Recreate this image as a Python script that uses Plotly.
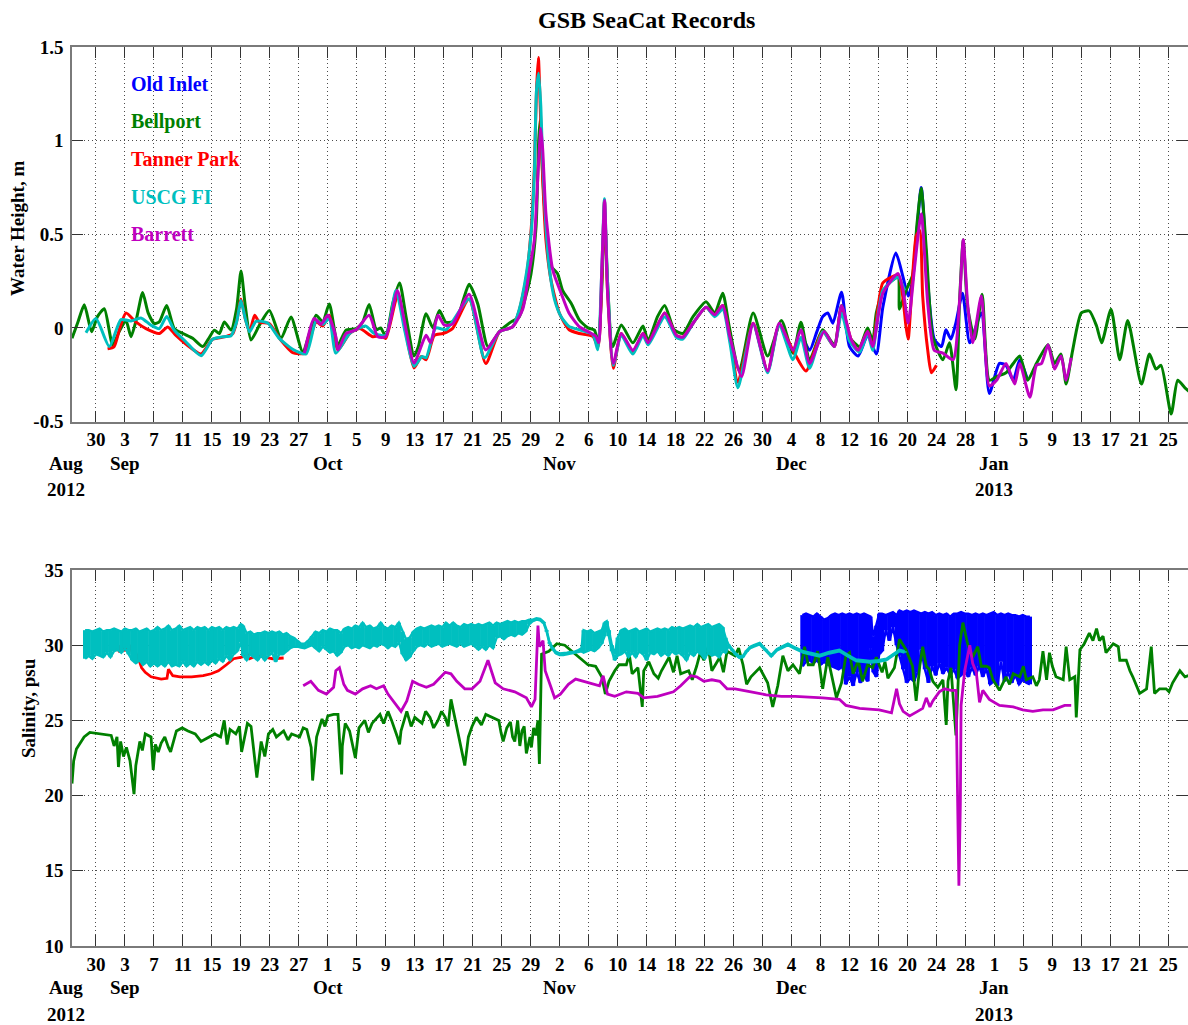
import numpy as np
import pandas as pd
import plotly.graph_objects as go

# Time is kept as decimal days since 27 Aug 2012 00:00
BASE = pd.Timestamp("2012-08-27")
X0, X1 = -0.31, 153.72


def when(days):
    return BASE + pd.to_timedelta(np.asarray(days, dtype=float), unit="D")


# ---------------- Water height (m), sub-tidal ----------------
old_inlet_wh_t = [100.6, 101.5, 102.5, 103.3, 104.0, 104.7, 105.9, 107.0, 108.2, 109.5, 110.7,
                  111.6, 113.4, 114.4, 115.1, 115.7, 116.9, 117.8, 118.7, 119.7, 120.3, 121.0,
                  121.7, 122.6, 123.6, 125.2, 126.3, 127.7, 128.6, 129.6, 130.5, 131.6]
old_inlet_wh = [-0.05, -0.12, -0.02, 0.06, 0.08, 0.025, 0.19, -0.10, -0.15, -0.04, -0.14,
                0.11, 0.40, 0.27, 0.17, 0.25, 0.75, 0.24, -0.06, -0.10, -0.01, -0.06,
                0.03, 0.185, -0.08, 0.08, -0.35, -0.19, -0.20, -0.28, -0.17, -0.28]

bellport_wh_t = [-0.31, 0.5, 1.39, 2.4, 3.2, 4.15, 5.3, 6.2, 7.14, 7.83, 8.6, 9.44, 10.2, 11.05,
                 11.74, 12.76, 13.81, 15.0, 16.35, 17.73, 18.5, 19.34, 20.03, 20.72, 21.64, 22.4,
                 23.02, 23.6, 24.4, 25.55, 26.93, 28.54, 29.92, 31.53, 33.37, 34.29, 35.2, 36.4,
                 37.5, 38.9, 39.8, 40.7, 41.7, 42.3, 43.0, 43.95, 44.9, 45.8, 46.9, 47.5, 48.56,
                 49.5, 50.4, 51.3, 52.7, 53.7, 54.5, 55.7, 57.1, 58.7, 60.3, 61.4, 62.4, 63.05,
                 63.74, 64.1, 64.3, 64.66, 65.1, 65.8, 66.7, 67.4, 68.6, 69.7, 70.9, 71.8, 72.3,
                 72.8, 73.2, 73.6, 74.3, 75.5, 77.1, 78.5, 79.2, 80.5, 81.5, 82.8, 84.0, 85.4,
                 87.2, 88.4, 89.5, 90.4, 91.8, 93.7, 95.7, 97.6, 99.2, 100.3, 101.5, 103.3, 104.9,
                 105.9, 107.0, 108.4, 109.5, 110.2, 110.7, 111.5, 112.5, 113.7, 113.9, 114.8,
                 115.7, 116.3, 116.9, 117.6, 118.5, 119.9, 120.8, 121.7, 122.2, 122.7, 123.3,
                 124.3, 125.3, 126.3, 127.3, 128.6, 129.6, 130.5, 131.6, 132.8, 134.4, 135.3,
                 136.2, 136.9, 137.8, 139.0, 140.1, 141.1, 141.8, 143.1, 144.3, 145.4, 147.3,
                 148.4, 149.3, 150.0, 151.4, 152.3, 153.3, 153.9]
bellport_wh = [-0.056, 0.03, 0.123, -0.021, 0.06, 0.102, -0.091, -0.02, 0.04, -0.047, 0.05, 0.189,
               0.08, 0.023, 0.032, 0.119, -0.004, -0.03, -0.056, -0.10, -0.06, -0.012, -0.03,
               0.032, -0.012, 0.10, 0.304, 0.12, -0.065, 0.014, 0.093, -0.056, 0.058, -0.126,
               0.067, 0.032, 0.128, -0.09, -0.012, -0.004, 0.03, 0.125, -0.01, 0.0, -0.047, 0.13,
               0.24, 0.058, -0.15, -0.10, 0.075, 0.0, 0.093, 0.03, 0.04, 0.15, 0.233, 0.128,
               -0.10, -0.02, 0.032, 0.058, 0.18, 0.29, 0.54, 1.0, 1.11, 0.81, 0.54, 0.33, 0.29,
               0.20, 0.13, 0.043, 0.0, -0.012, -0.09, 0.2, 0.62, 0.25, -0.10, 0.016, -0.08, 0.01,
               -0.07, 0.06, 0.12, -0.01, -0.03, 0.06, 0.14, 0.08, 0.185, 0.007, -0.23, 0.08,
               -0.15, 0.04, -0.135, 0.03, -0.17, -0.01, -0.09, 0.12, -0.05, -0.10, 0.0, -0.07,
               0.08, 0.18, 0.24, 0.27, 0.10, 0.20, 0.28, 0.55, 0.745, 0.42, -0.05, -0.17, -0.08,
               -0.33, 0.15, 0.47, 0.11, -0.06, 0.18, -0.28, -0.26, -0.24, -0.19, -0.15, -0.28,
               -0.19, -0.09, -0.19, -0.14, -0.30, -0.12, 0.08, 0.09, 0.01, -0.08, 0.10, -0.17,
               0.04, -0.30, -0.14, -0.22, -0.20, -0.46, -0.28, -0.32, -0.34]

tanner_wh_t = [4.6, 5.5, 6.3, 7.14, 8.5, 9.9, 11.74, 12.9, 14.0, 15.4, 17.5, 19.1, 20.9, 21.9, 22.5,
               23.0, 23.6, 24.2, 24.9, 25.55, 26.9, 28.5, 30.15, 31.76, 33.4, 34.3, 35.2, 36.4,
               38.0, 39.4, 41.2, 42.3, 43.0, 44.6, 45.8, 46.9, 47.9, 48.56, 49.7, 50.9, 52.2,
               54.5, 56.8, 58.7, 60.5, 61.4, 62.4, 63.05, 63.5, 63.8, 64.06, 64.3, 64.66, 65.1,
               65.8, 66.96, 68.3, 69.7, 71.6, 72.3, 72.8, 73.18, 73.6, 74.4, 75.5, 77.1, 78.5,
               79.2, 81.5, 83.1, 84.0, 85.5, 87.2, 88.4, 89.5, 90.5, 91.6, 93.7, 95.7, 97.3,
               99.2, 101.0, 103.3, 104.9, 105.9, 107.2, 108.2, 109.5, 110.2, 111.6, 113.7, 114.8,
               115.1, 116.2, 116.7, 117.1, 117.8, 118.3, 119.0]
tanner_wh = [-0.112, -0.10, 0.0, 0.079, 0.032, -0.004, -0.03, 0.005, -0.039, -0.086, -0.139, -0.061,
             -0.047, -0.03, 0.05, 0.154, 0.05, -0.02, 0.067, 0.03, 0.023, -0.065, -0.132, -0.135,
             0.032, 0.01, 0.067, -0.118, -0.03, -0.004, -0.047, -0.04, -0.056, 0.17, -0.03,
             -0.214, -0.153, -0.17, -0.04, -0.03, -0.004, 0.154, -0.19, -0.02, 0.005, 0.09, 0.27,
             0.52, 0.85, 1.27, 1.444, 1.2, 0.79, 0.47, 0.256, 0.078, -0.01, -0.03, -0.046, -0.10,
             0.25, 0.68, 0.2, -0.215, -0.03, -0.13, -0.03, -0.08, 0.08, -0.04, -0.05, 0.03, 0.11,
             0.07, 0.12, -0.05, -0.29, 0.025, -0.23, 0.016, -0.12, -0.23, -0.02, -0.10, 0.11,
             -0.06, -0.12, -0.02, -0.10, 0.24, 0.28, 0.007, -0.06, 0.49, 0.52, 0.17, -0.12,
             -0.24, -0.20]

uscg_wh_t = [1.62, 3.0, 4.84, 6.45, 7.83, 9.2, 10.6, 11.74, 12.76, 13.8, 15.4, 17.5, 19.1, 20.7,
             21.6, 22.4, 23.0, 23.6, 24.2, 25.1, 26.7, 28.3, 30.15, 32.0, 33.4, 34.3, 35.2, 36.1,
             38.0, 40.2, 41.4, 43.0, 44.4, 45.6, 46.9, 48.0, 48.56, 49.9, 51.3, 54.5, 56.6, 58.7,
             60.5, 61.4, 62.4, 63.05, 63.5, 63.8, 64.1, 64.4, 64.66, 65.1, 65.6, 66.3, 67.2, 68.3,
             69.7, 71.6, 72.25, 72.8, 73.18, 73.6, 74.4, 75.5, 77.1, 78.5, 79.2, 81.5, 83.1, 84.0,
             85.5, 87.2, 88.4, 89.5, 90.5, 91.6, 93.7, 95.7, 97.3, 99.2, 100.3, 101.5, 103.3,
             104.9, 105.9, 107.0, 108.4, 109.5, 110.2, 111.6, 113.7, 114.6]
uscg_wh = [-0.026, 0.05, -0.10, 0.044, 0.037, 0.053, 0.014, -0.004, 0.061, -0.012, -0.074, -0.149,
           -0.061, -0.047, -0.044, 0.03, 0.146, 0.05, -0.021, 0.035, 0.026, -0.056, -0.114, -0.139,
           0.04, 0.019, 0.05, -0.135, -0.03, 0.01, -0.03, -0.04, 0.2, -0.012, -0.205, -0.153, -0.16,
           0.0, -0.01, 0.154, -0.16, -0.02, 0.005, 0.096, 0.29, 0.5, 0.82, 1.27, 1.36, 1.18, 0.88,
           0.54, 0.31, 0.15, 0.06, 0.007, -0.01, -0.037, -0.117, 0.3, 0.69, 0.25, -0.2, -0.04,
           -0.14, -0.04, -0.09, 0.06, -0.05, -0.06, 0.03, 0.11, 0.06, 0.10, -0.08, -0.32, 0.02,
           -0.24, 0.016, -0.17, -0.05, -0.215, -0.02, -0.10, 0.08, -0.07, -0.13, -0.03, -0.12,
           0.20, 0.27, 0.20]

barrett_wh_t = [31.76, 33.1, 34.06, 35.0, 36.1, 36.4, 37.5, 38.9, 40.7, 41.9, 43.0, 44.6, 45.8, 46.9,
                48.56, 49.2, 50.2, 51.1, 52.2, 54.5, 56.8, 58.7, 60.5, 61.9, 62.8, 63.5, 64.0, 64.4,
                64.66, 65.1, 66.04, 67.2, 68.3, 69.7, 70.9, 72.0, 72.4, 72.8, 73.2, 73.6, 74.4, 75.5,
                77.1, 78.5, 79.2, 81.5, 83.1, 84.0, 85.5, 87.2, 88.4, 89.5, 90.5, 92.1, 93.7, 95.7,
                97.3, 99.2, 100.3, 101.5, 103.5, 104.9, 105.9, 107.2, 108.2, 109.5, 110.2, 111.6,
                113.7, 114.4, 115.1, 116.0, 116.9, 117.8, 118.7, 119.9, 121.3, 122.2, 122.7, 123.3,
                124.0, 125.2, 126.3, 127.3, 128.6, 129.8, 130.5, 131.9, 132.8, 133.5, 134.4, 135.3,
                136.2, 136.9, 137.6]
barrett_wh = [-0.135, 0.05, 0.02, 0.067, -0.047, -0.118, -0.03, -0.01, 0.067, -0.047, -0.047, 0.2,
              -0.012, -0.188, -0.04, -0.08, 0.067, 0.014, 0.02, 0.18, -0.118, -0.02, 0.005, 0.10,
              0.30, 0.47, 0.82, 1.065, 0.95, 0.61, 0.31, 0.185, 0.078, 0.007, -0.02, -0.046, -0.08,
              0.30, 0.68, 0.20, -0.19, -0.03, -0.12, -0.03, -0.08, 0.08, -0.04, -0.05, 0.03, 0.11,
              0.07, 0.12, -0.05, -0.26, 0.025, -0.23, 0.025, -0.12, -0.01, -0.19, -0.02, -0.10,
              0.12, -0.06, -0.12, -0.02, -0.10, 0.185, 0.29, 0.20, 0.025, 0.33, 0.61, 0.13, -0.12,
              -0.135, -0.17, 0.15, 0.47, 0.13, -0.08, 0.17, -0.31, -0.28, -0.19, -0.30, -0.19,
              -0.37, -0.20, -0.19, -0.09, -0.22, -0.15, -0.28, -0.16]

# ---------------- Salinity (psu) ----------------
# Old Inlet and USCG FI swing with every tide; kept as per-time upper and lower bounds
old_inlet_sal_t = [100.5, 101.0, 101.5, 102.0, 102.5, 103.0, 103.5, 104.0, 104.5, 105.0, 105.5, 106.0,
                   106.5, 107.0, 107.5, 108.0, 108.5, 109.0, 109.5, 109.9, 110.3, 110.7, 111.1, 111.5,
                   112.0, 112.5, 113.0, 113.5, 113.9, 114.4, 114.9, 115.4, 115.9, 116.4, 116.9, 117.4,
                   117.9, 118.4, 118.9, 119.4, 119.9, 120.4, 120.9, 121.4, 121.9, 122.4, 122.9, 123.4,
                   123.9, 124.4, 124.9, 125.4, 125.9, 126.4, 126.9, 127.4, 127.9, 128.4, 128.9, 129.4,
                   129.9, 130.4, 130.9, 131.4, 131.9]
old_inlet_sal_hi = [32.0, 32.1, 32.0, 31.9, 32.1, 31.9, 31.7, 31.8, 32.0, 32.1, 32.0, 32.1, 32.0, 32.1,
                    32.0, 32.1, 32.0, 32.1, 32.0, 31.9, 30.6, 31.3, 32.1, 32.1, 32.0, 32.1, 32.2, 32.0,
                    32.3, 32.2, 32.3, 32.2, 32.3, 32.2, 32.1, 32.2, 32.1, 32.2, 32.0, 32.1, 32.0, 32.1,
                    31.9, 32.1, 32.1, 32.2, 32.1, 32.1, 32.0, 32.1, 32.0, 32.1, 32.0, 32.1, 32.2, 32.0,
                    32.1, 32.0, 32.1, 32.0, 32.0, 31.9, 32.0, 31.9, 31.9]
old_inlet_sal_lo = [28.6, 28.9, 29.0, 28.8, 29.0, 28.7, 28.9, 28.7, 28.6, 28.5, 28.4, 28.6, 27.4, 27.9,
                    27.3, 28.2, 27.5, 28.0, 27.6, 29.8, 28.2, 27.9, 29.4, 29.6, 31.0, 30.3, 31.2, 30.0,
                    29.3, 28.4, 27.5, 27.8, 27.6, 28.2, 29.7, 28.4, 27.5, 28.6, 28.0, 28.8, 28.1, 28.5,
                    28.0, 28.4, 27.8, 28.0, 28.3, 27.9, 28.5, 28.0, 28.6, 27.9, 28.4, 27.4, 27.6, 27.3,
                    28.9, 27.6, 28.2, 27.5, 28.0, 27.4, 27.7, 27.5, 27.4]

bellport_sal_t = [-0.31, -0.08, 0.3, 0.8, 1.36, 2.15, 3.5, 5.1, 5.9, 6.1, 6.4, 7.2, 7.7, 8.25, 8.5, 9.05,
                  9.8, 10.6, 10.9, 11.2, 12.0, 13.0, 13.3, 14.1, 14.9, 15.7, 16.7, 18.3, 19.4, 20.2,
                  20.7, 21.5, 22.3, 23.1, 23.9, 24.4, 25.2, 25.8, 26.3, 26.8, 27.9, 28.9, 30.0, 31.6,
                  32.1, 32.7, 32.9, 33.45, 34.2, 35.0, 35.8, 36.4, 36.9, 37.4, 38.0, 38.5, 38.8, 39.3,
                  40.1, 41.1, 42.2, 42.7, 43.8, 44.6, 45.1, 45.9, 47.0, 48.0, 49.1, 50.2, 51.2, 52.0,
                  52.5, 53.3, 53.9, 54.4, 55.5, 56.8, 57.6, 58.6, 59.2, 59.7, 60.8, 61.8, 62.4, 62.9,
                  63.4, 64.0, 64.2, 64.5, 65.5, 66.6, 67.7, 68.7, 69.8, 70.9, 71.96, 72.8, 73.3, 73.8,
                  74.6, 75.2, 76.2, 77.0, 77.8, 78.4, 78.6, 80.0, 81.05, 82.1, 82.7, 83.7, 84.8, 85.9,
                  86.9, 87.5, 88.0, 89.1, 90.1, 91.2, 92.3, 92.8, 93.4, 94.6, 95.7, 96.4, 97.1, 97.8,
                  99.2, 100.1, 100.8, 101.3, 102.0, 103.3, 104.0, 104.5, 105.2, 105.9, 106.5, 107.5,
                  108.2, 108.8, 109.5, 110.2, 110.7, 111.5, 112.3, 113.2, 113.9, 114.8, 115.7, 116.2,
                  116.7, 117.1, 117.6, 118.5, 119.2, 119.9, 120.35, 120.6, 121.0, 121.7, 122.2, 122.65,
                  123.3, 124.0, 124.7, 125.2, 125.9, 126.8, 127.7, 128.6, 129.6, 130.5, 131.4, 132.3,
                  133.2, 133.7, 134.2, 134.6, 135.5, 136.5, 136.9, 137.4, 138.1, 138.3, 138.8, 139.4,
                  140.1, 140.6, 141.1, 141.5, 142.4, 143.4, 144.1, 144.3, 145.2, 146.1, 147.05, 148.0,
                  148.65, 149.1, 149.8, 150.7, 151.6, 152.6, 153.3, 153.9]
bellport_sal = [20.8, 22.3, 23.1, 23.5, 23.9, 24.2, 24.1, 24.0, 23.9, 21.9, 23.6, 23.2, 22.3, 20.1, 22.0,
                23.6, 24.1, 23.9, 21.7, 23.4, 23.5, 23.2, 22.9, 24.3, 24.5, 24.3, 24.1, 23.8, 24.1,
                23.9, 25.0, 24.4, 24.1, 22.9, 24.8, 24.6, 21.2, 23.6, 22.6, 24.1, 23.9, 24.3, 24.1,
                24.5, 24.4, 23.2, 21.0, 23.9, 25.1, 25.3, 25.4, 25.4, 21.4, 24.8, 24.3, 23.2, 22.5,
                24.5, 25.0, 24.8, 25.4, 24.8, 25.0, 23.9, 24.3, 25.6, 25.2, 24.8, 25.2, 25.0, 25.2,
                26.4, 25.2, 23.5, 22.0, 23.9, 25.2, 25.4, 25.2, 25.0, 23.6, 24.5, 23.6, 24.3, 22.8,
                23.9, 24.5, 25.0, 22.1, 29.4, 29.6, 30.1, 30.0, 29.6, 29.2, 28.7, 28.6, 27.9, 26.75,
                27.6, 28.3, 28.7, 28.7, 28.1, 28.5, 25.9, 28.3, 28.1, 28.3, 29.2, 28.2, 28.1, 28.3,
                28.6, 29.0, 29.9, 28.3, 29.2, 29.6, 29.3, 28.7, 27.4, 27.9, 28.5, 27.5, 25.9, 27.3,
                29.3, 28.7, 28.1, 29.9, 28.7, 28.7, 27.1, 29.2, 28.1, 26.5, 27.5, 29.3, 28.1, 29.0,
                27.6, 28.7, 28.5, 29.2, 28.2, 27.8, 28.5, 30.4, 29.7, 28.6, 26.3, 28.6, 29.9, 28.6,
                27.6, 27.2, 27.7, 24.7, 27.6, 28.5, 24.0, 30.0, 31.5, 30.1, 29.2, 29.9, 28.6, 28.6,
                27.7, 27.0, 27.9, 28.1, 27.9, 27.7, 27.9, 27.7, 29.6, 27.7, 29.5, 27.9, 27.7, 29.9,
                27.7, 27.9, 25.2, 29.7, 30.1, 30.8, 30.3, 31.1, 30.3, 29.5, 30.1, 29.9, 29.0, 29.0,
                27.9, 26.8, 27.1, 29.9, 26.8, 27.1, 27.1, 27.5, 28.3, 27.9, 28.0]
# short-lived excursions of the Bellport record between the samples above
bellport_sal_spike_t = [5.5, 6.8, 9.4, 11.6, 12.5, 17.5, 21.1, 22.8, 24.8, 27.4, 29.5, 31.1, 34.6,
                        37.0, 40.6, 43.3, 44.9, 46.5, 48.5, 49.6, 50.7, 51.6, 54.9, 56.2, 58.9,
                        60.2, 60.5, 61.2, 61.5, 62.1, 63.1, 63.7, 76.6, 79.3, 80.6, 83.2, 85.3,
                        86.4, 89.6, 91.7, 98.5, 102.6, 107.0, 111.9, 118.0, 126.3, 129.1, 131.0,
                        132.8, 135.0, 142.0, 145.7, 151.1]
bellport_sal_spike = [23.3, 22.6, 23.0, 22.9, 23.9, 23.6, 23.4, 24.6, 22.9, 24.4, 23.7, 23.9, 24.6,
                      23.3, 24.2, 25.6, 23.4, 24.6, 25.6, 24.5, 25.6, 24.6, 24.6, 24.7, 24.2,
                      24.9, 23.9, 25.0, 23.3, 24.6, 23.2, 24.0, 29.4, 28.9, 27.8, 29.3, 27.7,
                      29.5, 28.2, 29.8, 28.3, 29.6, 29.5, 28.9, 28.4, 28.5, 27.4, 28.6,
                      27.3, 28.6, 30.6, 28.3, 26.9]

tanner_sal_t = [5.9, 6.1, 6.3, 6.6, 6.9, 7.2, 7.5, 7.8, 8.25, 8.8, 9.3, 9.8, 10.6, 12.0, 12.8, 13.0, 13.6,
                14.6, 16.2, 17.8, 18.9, 19.9, 21.0, 22.0, 23.1, 23.9, 24.2, 24.7, 25.2, 26.3, 27.35,
                28.9]
tanner_sal = [29.6, 30.0, 29.5, 30.1, 29.6, 30.0, 29.5, 29.9, 29.7, 29.2, 28.5, 28.2, 27.9, 27.75,
              27.8, 28.4, 27.97, 27.9, 27.9, 27.97, 28.1, 28.3, 28.7, 29.1, 29.2, 29.4, 29.1, 29.2,
              29.3, 29.2, 29.1, 29.15]

uscg_sal_t = [1.5, 2.0, 2.5, 3.0, 3.5, 4.0, 4.5, 5.0, 5.5, 6.0, 6.5, 7.0, 7.5, 8.0, 8.5, 9.0, 9.5, 10.0,
              10.5, 11.0, 11.5, 12.0, 12.5, 13.0, 13.5, 14.0, 14.5, 15.0, 15.5, 16.0, 16.5, 17.0,
              17.5, 18.0, 18.5, 19.0, 19.5, 20.0, 20.5, 21.0, 21.5, 22.0, 22.5, 23.0, 23.3, 23.8,
              24.3, 24.8, 25.3, 25.8, 26.3, 26.8, 27.3, 27.8, 28.3, 28.8, 29.3, 29.8, 30.3, 30.8,
              31.3, 31.8, 32.3, 32.8, 33.3, 33.8, 34.3, 34.8, 35.3, 35.8, 36.3, 36.8, 37.3, 37.8,
              38.3, 38.8, 39.3, 39.8, 40.3, 40.8, 41.3, 41.8, 42.3, 42.8, 43.3, 43.8, 44.3, 44.8,
              45.3, 45.8, 46.3, 46.8, 47.3, 47.8, 48.3, 48.8, 49.3, 49.8, 50.3, 50.8, 51.3, 51.8,
              52.3, 52.8, 53.3, 53.8, 54.3, 54.8, 55.3, 55.8, 56.3, 56.8, 57.3, 57.8, 58.3, 58.8,
              59.3, 59.8, 60.3, 60.8, 61.3, 61.8, 62.3, 62.8, 63.3, 63.8, 64.3, 64.8, 65.2, 65.6,
              66.0, 66.5, 67.0, 67.5, 68.0, 68.5, 69.0, 69.5, 70.0, 70.3, 70.8, 71.3, 71.8, 72.3,
              72.8, 73.2, 73.5, 73.8, 74.2, 74.6, 75.0, 75.5, 76.0, 76.5, 77.0, 77.5, 78.0, 78.5,
              79.0, 79.5, 80.0, 80.5, 81.0, 81.5, 82.0, 82.5, 83.0, 83.5, 84.0, 84.5, 85.0, 85.5,
              86.0, 86.5, 87.0, 87.5, 88.0, 88.5, 89.0, 89.5, 89.9, 90.3, 90.8, 91.3, 91.8, 92.3,
              92.8, 93.3, 93.8, 94.6, 95.4, 96.2, 97.0, 98.5, 99.5, 100.6, 102.0, 102.9, 104.2,
              105.6, 106.8, 107.9, 109.8, 111.0, 112.1, 113.2, 113.9, 114.6]
uscg_sal_hi = [31.0, 31.0, 30.9, 31.0, 31.1, 30.9, 31.0, 31.0, 31.1, 31.0, 30.9, 31.1, 31.0, 31.0, 31.1,
               30.9, 31.0, 31.1, 30.9, 31.0, 31.2, 31.0, 31.1, 31.3, 31.0, 31.1, 31.3, 31.0, 31.1,
               31.2, 31.0, 31.2, 31.1, 31.2, 31.0, 31.2, 31.1, 31.2, 31.0, 31.2, 31.1, 31.2, 31.1,
               31.4, 31.3, 30.8, 30.9, 30.7, 30.8, 30.8, 30.9, 30.8, 30.9, 30.8, 30.9, 30.7, 30.8,
               30.6, 30.5, 30.3, 30.1, 30.1, 30.3, 30.6, 30.9, 30.8, 31.0, 30.9, 31.1, 31.0, 31.0,
               30.8, 31.1, 31.2, 31.1, 31.3, 31.2, 31.5, 31.2, 31.3, 31.1, 31.2, 31.5, 31.2, 31.1,
               31.3, 31.2, 31.5, 30.9, 30.4, 30.5, 30.9, 31.1, 31.2, 31.1, 31.2, 31.3, 31.2, 31.3,
               31.2, 31.5, 31.3, 31.5, 31.3, 31.2, 31.4, 31.3, 31.4, 31.3, 31.4, 31.3, 31.4, 31.5,
               31.3, 31.5, 31.4, 31.5, 31.6, 31.5, 31.6, 31.5, 31.6, 31.6, 31.7, 31.7, 31.8, 31.75,
               31.55, 31.0, 30.2, 29.85, 29.55, 29.45, 29.45, 29.5, 29.55, 29.55, 29.65, 29.8, 31.0,
               30.9, 31.0, 30.8, 30.9, 31.0, 31.5, 31.6, 31.0, 30.0, 29.4, 30.5, 31.0, 31.1, 30.9,
               31.0, 31.1, 30.9, 31.0, 31.1, 30.9, 31.0, 31.1, 31.0, 31.1, 31.0, 31.2, 31.1, 31.2,
               31.1, 31.2, 31.3, 31.2, 31.4, 31.2, 31.3, 31.4, 31.2, 31.3, 31.4, 31.2, 30.5, 30.05,
               29.75, 29.45, 29.25, 29.3, 29.65, 29.9, 30.0, 30.15, 29.75, 29.35, 29.75, 30.1, 29.85,
               29.6, 29.45, 29.35, 29.55, 29.7, 29.35, 29.05, 28.95, 29.0, 29.1, 29.45, 29.7, 29.6]
uscg_sal_lo = [29.1, 29.3, 29.1, 29.4, 29.3, 29.2, 29.5, 29.2, 29.6, 29.7, 29.5, 29.8, 29.4, 29.0, 28.8,
               29.0, 28.7, 28.9, 28.6, 28.8, 28.6, 28.8, 28.6, 28.9, 28.6, 28.7, 28.6, 28.9, 28.6,
               28.8, 28.6, 28.9, 28.7, 28.9, 28.7, 29.0, 28.8, 29.1, 28.9, 29.3, 29.0, 29.4, 29.6,
               30.2, 29.3, 29.0, 29.4, 29.2, 29.0, 29.3, 29.0, 29.3, 29.5, 28.9, 29.4, 29.4, 29.6,
               29.8, 29.9, 29.9, 29.85, 29.8, 29.9, 30.0, 29.8, 29.6, 29.9, 29.7, 29.5, 29.6, 29.3,
               29.5, 29.9, 30.0, 29.8, 29.9, 29.8, 30.0, 29.9, 29.8, 30.0, 29.9, 30.1, 30.0, 29.8,
               30.0, 29.9, 30.2, 29.4, 29.0, 29.2, 29.6, 29.9, 30.0, 29.9, 30.1, 29.9, 30.0, 30.1,
               29.9, 30.0, 30.1, 30.0, 29.9, 30.1, 29.9, 30.0, 30.1, 29.9, 29.7, 29.9, 29.7, 30.0,
               29.8, 30.5, 30.6, 30.4, 30.6, 30.7, 30.6, 30.8, 30.7, 30.9, 31.4, 31.6, 31.7, 31.65,
               31.45, 30.9, 30.1, 29.75, 29.45, 29.35, 29.35, 29.4, 29.45, 29.45, 29.55, 29.6, 29.5,
               29.6, 29.7, 29.6, 29.8, 30.1, 30.6, 31.3, 30.6, 29.6, 29.0, 29.3, 29.4, 29.6, 29.2,
               29.5, 29.2, 29.6, 29.4, 29.0, 29.5, 29.4, 29.6, 29.3, 29.5, 29.3, 29.6, 29.4, 29.5,
               29.3, 29.0, 29.5, 29.3, 29.6, 29.4, 29.1, 29.5, 29.3, 29.4, 29.2, 29.6, 29.5, 29.95,
               29.65, 29.35, 29.15, 29.2, 29.55, 29.8, 29.9, 30.05, 29.65, 29.25, 29.65, 30.0, 29.75,
               29.5, 29.35, 29.25, 29.45, 29.6, 29.25, 28.95, 28.85, 28.9, 29.0, 29.35, 29.6, 29.5]

barrett_sal_t = [31.6, 32.65, 33.7, 34.8, 35.8, 36.1, 36.6, 37.2, 37.7, 38.8, 39.8, 40.9, 41.7, 42.7,
                 43.3, 44.3, 45.1, 45.9, 46.7, 47.5, 48.6, 49.6, 51.2, 52.0, 52.8, 53.9, 54.9, 56.0,
                 57.1, 58.1, 59.2, 60.8, 62.4, 63.1, 63.6, 64.0, 64.2, 64.7, 65.0, 65.8, 66.3, 67.1,
                 68.2, 69.2, 70.3, 71.4, 72.5, 73.0, 73.6, 74.6, 76.2, 77.8, 78.6, 80.5, 82.7, 83.7,
                 85.1, 85.9, 86.9, 88.0, 89.1, 90.1, 91.2, 93.4, 95.5, 97.6, 99.5, 103.3, 105.6,
                 106.5, 108.4, 111.1, 112.8, 113.5, 113.9, 114.4, 115.3, 116.4, 117.1, 117.6, 118.1,
                 118.5, 119.4, 120.1, 121.0, 121.7, 121.96, 122.1, 122.3, 122.4, 122.9, 123.6, 124.0,
                 124.5, 124.95, 125.4, 126.3, 127.7, 129.6, 130.9, 132.3, 133.7, 135.1, 136.2, 136.7,
                 137.6]
barrett_sal = [27.3, 27.6, 27.0, 26.75, 27.2, 28.3, 28.5, 27.4, 27.0, 26.75, 27.1, 27.3, 27.1, 27.3,
               26.75, 26.1, 25.6, 26.3, 27.6, 27.4, 27.2, 27.4, 28.2, 28.1, 27.6, 27.1, 27.1, 27.6,
               29.0, 27.5, 27.1, 26.9, 26.5, 25.9, 26.4, 31.3, 29.9, 30.3, 28.3, 27.2, 26.5, 26.75,
               27.4, 27.75, 27.6, 27.4, 27.3, 27.97, 26.75, 26.6, 26.9, 26.8, 26.5, 26.6, 26.9, 27.3,
               27.97, 27.9, 27.6, 27.7, 27.6, 27.1, 27.1, 26.9, 26.7, 26.6, 26.6, 26.5, 26.4, 26.0,
               25.8, 25.7, 25.5, 27.1, 26.1, 25.6, 25.3, 25.6, 25.8, 26.5, 25.9, 26.3, 26.9, 27.1,
               27.0, 27.0, 19.2, 14.0, 19.5, 26.0, 28.3, 30.0, 28.8, 28.2, 26.2, 27.0, 26.4, 26.0,
               25.9, 25.7, 25.6, 25.7, 25.7, 25.9, 26.0, 26.0]

# ---------------- Axis labelling ----------------
day_tick_labels = ["30", "3", "7", "11", "15", "19", "23", "27", "1", "5", "9", "13", "17", "21",
                   "25", "29", "2", "6", "10", "14", "18", "22", "26", "30", "4", "8", "12", "16",
                   "20", "24", "28", "1", "5", "9", "13", "17", "21", "25"]
month_labels = ["Aug", "Sep", "Oct", "Nov", "Dec", "Jan"]
month_label_days = [-1.1, 7, 35, 67, 99, 127]
year_labels = ["2012", "2013"]
year_label_days = [-1.1, 127]

sites = ["Old Inlet", "Bellport", "Tanner Park", "USCG FI", "Barrett"]
site_colors = ["#0000FF", "#008000", "#FF0000", "#00BFBF", "#BF00BF"]
COL = dict(zip(sites, site_colors))

FONT = "Liberation Serif"
W, H = 1188, 1025
ML, MR, MT, MB = 72, 0, 47, 79
PLOT_H = H - MT - MB
TOP_DOMAIN = [(946 - 421.5) / PLOT_H, 1.0]
BOT_DOMAIN = [0.0, (946 - 570.0) / PLOT_H]


def py(px):
    """Figure pixel row -> paper y."""
    return (H - MB - px) / PLOT_H


def pxx(px):
    """Figure pixel column -> paper x."""
    return (px - ML) / (W - ML - MR)


def dayx(d):
    return (d - X0) / (X1 - X0)


fig = go.Figure()


def add_line(t, v, site, xa, ya, width=3.0, smooth=False):
    line = dict(color=COL[site], width=width)
    if smooth:
        line.update(shape="spline", smoothing=0.6)
    fig.add_trace(go.Scatter(x=when(t), y=v, mode="lines", xaxis=xa, yaxis=ya, line=line,
                             showlegend=False, hoverinfo="skip"))


def add_tidal_range(t, hi, lo, site, xa, ya):
    """Each sample drawn as a vertical stroke from its low to its high reading."""
    xs, ys = [], []
    for ti, h, l in zip(when(t), hi, lo):
        xs += [ti, ti, None]
        ys += [l, h, None]
    fig.add_trace(go.Scatter(x=xs, y=ys, mode="lines", xaxis=xa, yaxis=ya,
                             line=dict(color=COL[site], width=4.2, simplify=False),
                             showlegend=False, hoverinfo="skip", connectgaps=False))
    for edge in (hi, lo):
        add_line(t, edge, site, xa, ya, width=2.4)


# water height panel
add_line(old_inlet_wh_t, old_inlet_wh, "Old Inlet", "x", "y", smooth=True)
add_line(bellport_wh_t, bellport_wh, "Bellport", "x", "y", smooth=True)
add_line(tanner_wh_t, tanner_wh, "Tanner Park", "x", "y", smooth=True)
add_line(uscg_wh_t, uscg_wh, "USCG FI", "x", "y", smooth=True)
add_line(barrett_wh_t, barrett_wh, "Barrett", "x", "y", smooth=True)

# salinity panel
bell = sorted(zip(bellport_sal_t + bellport_sal_spike_t, bellport_sal + bellport_sal_spike))
add_tidal_range(old_inlet_sal_t, old_inlet_sal_hi, old_inlet_sal_lo, "Old Inlet", "x2", "y2")
add_line([p[0] for p in bell], [p[1] for p in bell], "Bellport", "x2", "y2", 2.8)
add_line(tanner_sal_t, tanner_sal, "Tanner Park", "x2", "y2", 2.8)
add_tidal_range(uscg_sal_t, uscg_sal_hi, uscg_sal_lo, "USCG FI", "x2", "y2")
add_line(barrett_sal_t, barrett_sal, "Barrett", "x2", "y2", 2.8)

tick_vals = when(np.arange(3, 152, 4))
grid = dict(showgrid=True, gridcolor="rgba(0,0,0,0.7)", gridwidth=1, griddash="1px,3px",
            zeroline=False, showline=True, linecolor="#7a7a7a", linewidth=1.5, mirror="ticks",
            ticks="inside", ticklen=11, tickcolor="#333333", tickwidth=1,
            tickfont=dict(family=FONT, size=19, color="black", weight="bold"))

xcommon = dict(grid, type="date", range=[when([X0])[0], when([X1])[0]], tickmode="array",
               tickvals=tick_vals, ticktext=day_tick_labels, ticklabelstandoff=0)

fig.update_layout(
    width=W, height=H, paper_bgcolor="white", plot_bgcolor="white",
    margin=dict(l=ML, r=MR, t=MT, b=MB, autoexpand=False),
    xaxis=dict(xcommon, domain=[0, 1], anchor="y"),
    yaxis=dict(grid, domain=TOP_DOMAIN, anchor="x", range=[-0.5, 1.5], tickmode="array",
               tickvals=[-0.5, 0, 0.5, 1, 1.5], ticktext=["-0.5", "0", "0.5", "1", "1.5"],
               ticklabelstandoff=3),
    xaxis2=dict(xcommon, domain=[0, 1], anchor="y2"),
    yaxis2=dict(grid, domain=BOT_DOMAIN, anchor="x2", range=[10, 35], tickmode="array",
                tickvals=[10, 15, 20, 25, 30, 35], ticktext=["10", "15", "20", "25", "30", "35"],
                ticklabelstandoff=3),
)

ann = []
bold = dict(family=FONT, color="black", weight="bold")

# title
ann.append(dict(text="GSB SeaCat Records", x=pxx(646), y=py(20), xref="paper", yref="paper",
                showarrow=False, xanchor="center", yanchor="middle", font=dict(bold, size=24)))
# y-axis titles
ann.append(dict(text="Water Height, m", x=pxx(17), y=py(229), xref="paper", yref="paper",
                showarrow=False, textangle=-90, xanchor="center", yanchor="middle",
                font=dict(bold, size=19)))
ann.append(dict(text="Salinity, psu", x=pxx(29), y=py(708), xref="paper", yref="paper",
                showarrow=False, textangle=-90, xanchor="center", yanchor="middle",
                font=dict(bold, size=19)))
# month and year rows beneath each panel
for axis_px in (421.5, 946.0):
    for lab, d in zip(month_labels, month_label_days):
        ann.append(dict(text=lab, x=dayx(d), y=py(axis_px + 41.5), xref="paper", yref="paper",
                        showarrow=False, xanchor="center", yanchor="middle",
                        font=dict(bold, size=19)))
    for lab, d in zip(year_labels, year_label_days):
        ann.append(dict(text=lab, x=dayx(d), y=py(axis_px + 68.5), xref="paper", yref="paper",
                        showarrow=False, xanchor="center", yanchor="middle",
                        font=dict(bold, size=19)))
# site key, coloured text inside the water height panel
for i, (s, c) in enumerate(zip(sites, site_colors)):
    ann.append(dict(text=s, x=pxx(129), y=py(84 + 37.6 * i), xref="paper", yref="paper",
                    showarrow=False, xanchor="left", yanchor="middle",
                    font=dict(family=FONT, size=20, color=c, weight="bold")))

fig.update_layout(annotations=ann)
fig.write_html("out.html")
